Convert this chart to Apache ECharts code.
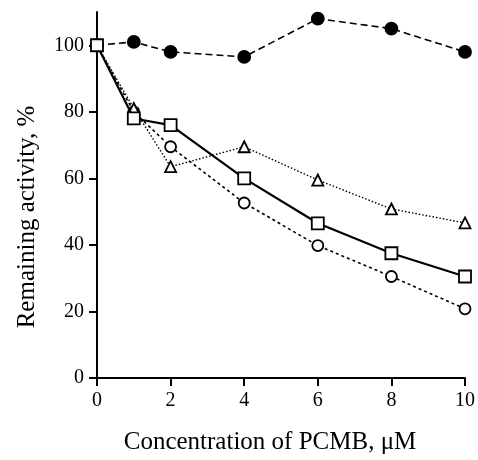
<!DOCTYPE html>
<html><head><meta charset="utf-8">
<script src="https://cdn.jsdelivr.net/npm/echarts@6/dist/echarts.min.js"></script>
<style>html,body{margin:0;padding:0;background:#fff}#c{width:478px;height:460px}</style>
</head><body><div id="c"></div>
<script>
const concentrations = [0, 1, 2, 4, 6, 8, 10];
const filledCircles = [100, 101, 98, 96.5, 108, 105, 98];
const openSquares = [100, 78, 76, 60, 46.5, 37.5, 30.5];
const openTriangles = [100, 81, 63.5, 69.5, 59.5, 50.8, 46.6];
const openCircles = [100, 80, 69.5, 52.6, 39.8, 30.5, 20.8];
const yTicks = [0, 20, 40, 60, 80, 100];
const xTicks = [0, 2, 4, 6, 8, 10];

const pair = arr => concentrations.map((c, i) => [c, arr[i]]);
const font = 'Liberation Serif';
const mk = (name, data, symbol, size, fill, lineType, width, z) => ({
  name, type: 'line', data: pair(data), symbol, symbolSize: size, showAllSymbol: true,
  lineStyle: { color: '#000', width, type: lineType },
  itemStyle: { color: fill, borderColor: '#000', borderWidth: 1.8 },
  z, animation: false
});
const chart = echarts.init(document.getElementById('c'));
chart.setOption({
  animation: false,
  grid: { left: 97, right: 11, top: 12, bottom: 76, containLabel: false },
  xAxis: {
    type: 'value', min: 0, max: 10, interval: 2,
    splitLine: { show: false },
    axisLine: { lineStyle: { color: '#000', width: 2 } },
    axisTick: { length: 8, lineStyle: { color: '#000', width: 2 }, customValues: xTicks },
    axisLabel: { color: '#000', fontFamily: font, fontSize: 20, margin: 13, customValues: xTicks },
    name: 'Concentration of PCMB, μM', nameLocation: 'middle', nameGap: 52,
    nameTextStyle: { color: '#000', fontFamily: font, fontSize: 25, padding: [0, 22, 0, 0] }
  },
  yAxis: {
    type: 'value', min: 0, max: 110,
    splitLine: { show: false },
    axisLine: { lineStyle: { color: '#000', width: 2 } },
    axisTick: { length: 8, lineStyle: { color: '#000', width: 2 }, customValues: yTicks },
    axisLabel: { color: '#000', fontFamily: font, fontSize: 20, margin: 13, customValues: yTicks },
    name: 'Remaining activity, %', nameLocation: 'middle', nameGap: 57,
    nameTextStyle: { color: '#000', fontFamily: font, fontSize: 25, padding: [0, 44, 0, 0] }
  },
  series: [
    mk('filled circles', filledCircles, 'circle', 12, '#000', [7, 4], 1.6, 3),
    mk('open circles', openCircles, 'circle', 11, '#fff', [3, 3], 1.6, 4),
    mk('open triangles', openTriangles, 'triangle', 11, '#fff', [1.5, 2], 1.4, 5),
    mk('open squares', openSquares, 'rect', 12, '#fff', 'solid', 2.2, 6)
  ]
});
</script></body></html>
